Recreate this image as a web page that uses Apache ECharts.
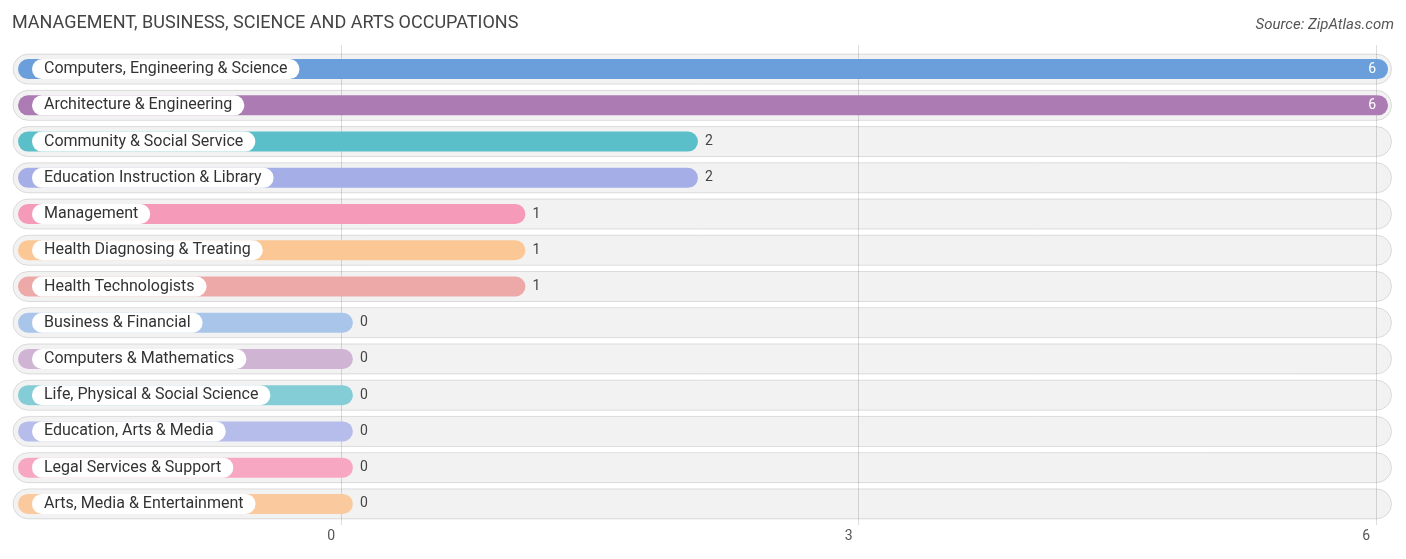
<!DOCTYPE html>
<html><head><meta charset="utf-8">
<script src="https://cdn.jsdelivr.net/npm/echarts@6/dist/echarts.min.js"></script>
<style>html,body{margin:0;padding:0;background:#fff}#c{width:1406px;height:559px}</style>
</head><body><div id="c"></div>
<script>
const categories = ["Computers, Engineering & Science","Architecture & Engineering","Community & Social Service","Education Instruction & Library","Management","Health Diagnosing & Treating","Health Technologists","Business & Financial","Computers & Mathematics","Life, Physical & Social Science","Education, Arts & Media","Legal Services & Support","Arts, Media & Entertainment"];
const values = [6,6,2,2,1,1,1,0,0,0,0,0,0];
const colors = ["#6a9fdc","#ad7bb4","#5bbfc9","#a5aee6","#f59ab8","#fac795","#eca9a7","#a9c6ea","#cfb4d4","#85cdd6","#b6bdeb","#f8a7c3","#fbc99e"];
const tickLabels = [0,3,6];
const chart = echarts.init(document.getElementById('c'));
const XMIN=-1.9, XMAX=6;
chart.setOption({
  animation:false,
  title:[{text:"MANAGEMENT, BUSINESS, SCIENCE AND ARTS OCCUPATIONS",left:7,top:9,textStyle:{fontFamily:"Roboto",fontSize:18,fontWeight:"normal",color:"#444"}},
         {text:"Source: ZipAtlas.com",right:7,top:13,textStyle:{fontFamily:"Roboto",fontSize:15,fontStyle:"italic",fontWeight:"normal",color:"#555"}}],
  grid:[{left:13,right:30,top:51,bottom:37},{left:341,right:30,top:45,bottom:34}],
  xAxis:[{gridIndex:0,type:'value',min:XMIN,max:XMAX,show:false,splitLine:{show:false}},
         {gridIndex:1,type:'value',min:0,max:6,interval:3,axisLine:{show:false},axisTick:{show:false},
          splitLine:{lineStyle:{color:"#ddd"}},axisLabel:{color:"#555",fontFamily:"Roboto",fontSize:14,align:'right',margin:4,padding:[0,6,0,0],formatter:v=>tickLabels.includes(v)?String(v):''}}],
  yAxis:[{gridIndex:0,type:'category',data:categories,inverse:true,show:false},
         {gridIndex:1,type:'category',data:[''],show:false}],
  series:[{type:'custom',xAxisIndex:0,yAxisIndex:0,z:5,
    data:values.map((v,i)=>[v,i]),
    renderItem:function(params,api){
      const v=api.value(0), i=api.value(1);
      const c0=api.coord([XMIN,i]);
      const cEnd=api.coord([v+0.07,i]);
      const cMax=api.coord([XMAX+0.09,i]);
      const y=c0[1];
      const x0=c0[0];
      const kids=[
        {type:'rect',shape:{x:x0,y:y-15,width:cMax[0]-x0,height:30,r:15},style:{fill:'rgba(0,0,0,0.05)',stroke:'rgba(0,0,0,0.12)',lineWidth:1}},
        {type:'rect',shape:{x:x0+5,y:y-10,width:cEnd[0]-x0-5,height:20,r:10},style:{fill:colors[i]}},
        {type:'text',x:x0+19,y:y,style:{text:categories[i],fill:'#333',font:'16px Roboto',verticalAlign:'middle',backgroundColor:'#fff',borderRadius:10,padding:[2,12,2,12]}}
      ];
      if(v>=6){kids.push({type:'text',x:cEnd[0]-12,y:y,style:{text:String(v),fill:'#fff',font:'14px Roboto',align:'right',verticalAlign:'middle'}});}
      else kids.push({type:'text',x:cEnd[0]+7,y:y,style:{text:String(v),fill:'#444',font:'14px Roboto',align:'left',verticalAlign:'middle'}});
      return {type:'group',children:kids};
    }}]
});
</script></body></html>
